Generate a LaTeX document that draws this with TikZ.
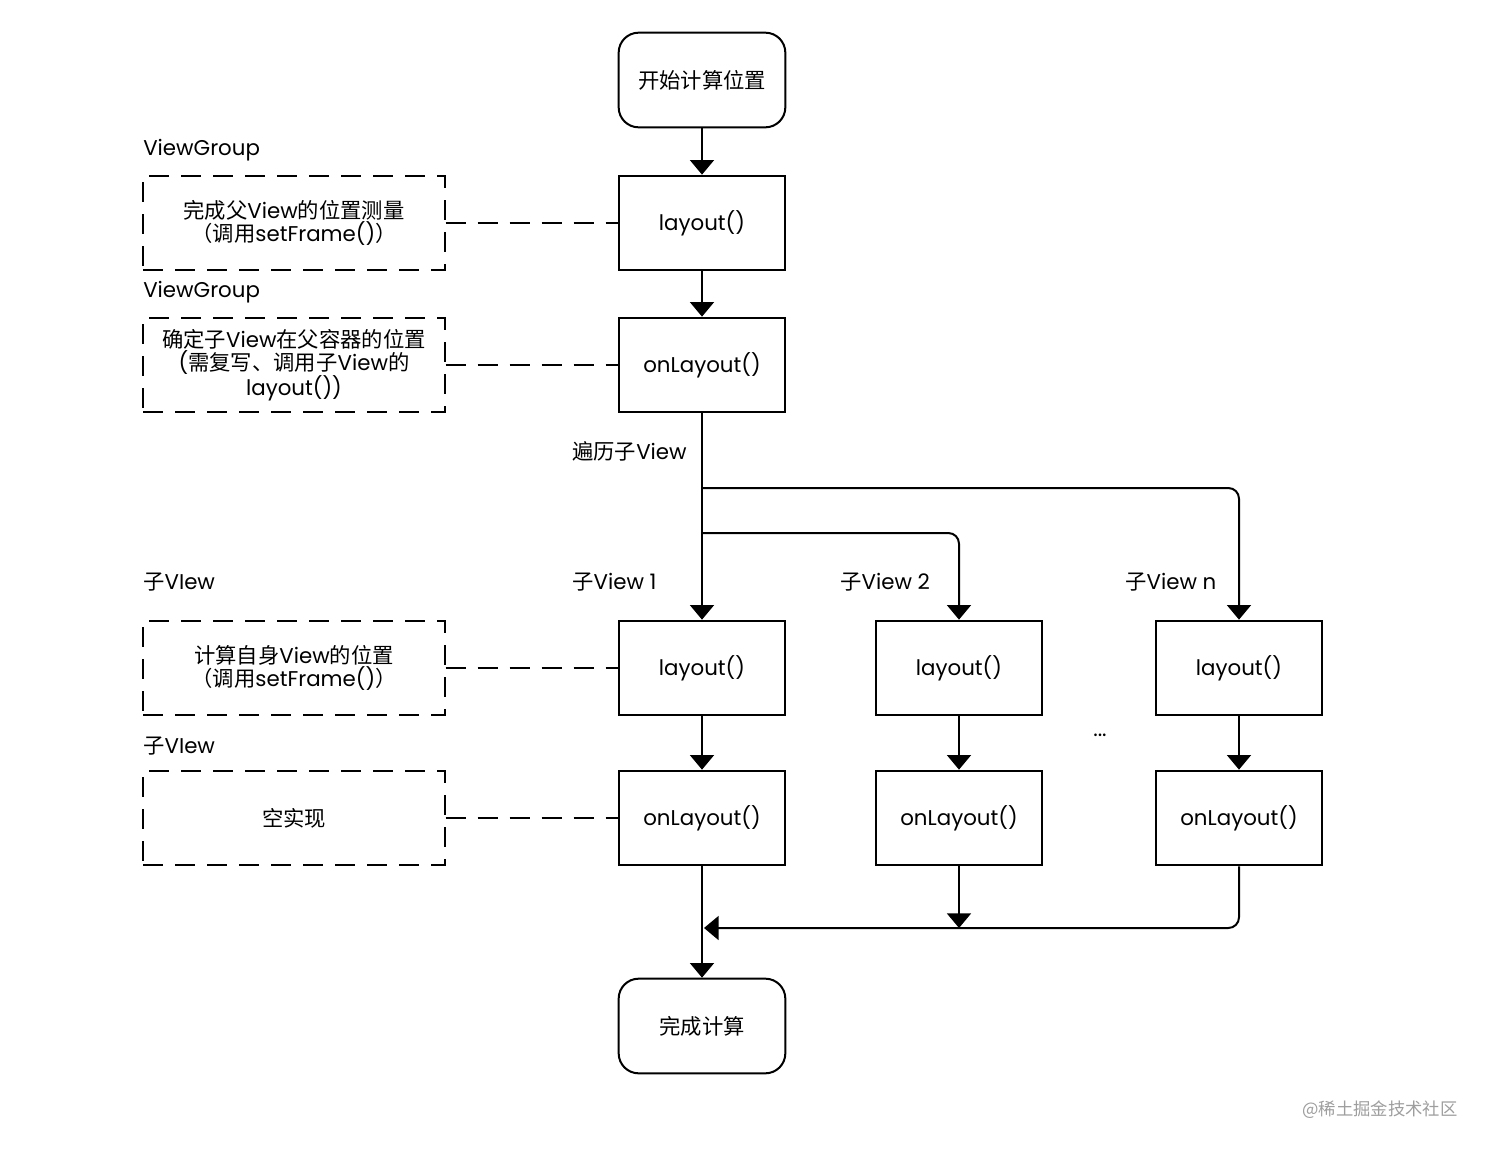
\documentclass[tikz,border=0pt]{standalone}
\usepackage{fontspec}
\setmainfont{Poppins}
\newfontfamily\cjk{Noto Sans CJK SC}
\usetikzlibrary{arrows.meta}
\begin{document}
\begin{tikzpicture}[x=0.75pt,y=-0.75pt,
  font=\fontsize{16}{17.5}\selectfont,
  proc/.style={draw, line width=1.5pt, minimum width=125pt, minimum height=71pt, inner sep=0pt},
  term/.style={proc, rounded corners=15pt},
  note/.style={draw, line width=1.5pt, dash pattern=on 15pt off 9pt, minimum width=226pt, minimum height=71pt, align=center, inner sep=0pt},
  lbl/.style={anchor=west, inner sep=0pt},
  arr/.style={line width=1.5pt, -{Triangle[width=18pt,length=11pt]}},
  dl/.style={line width=1.5pt, dash pattern=on 15pt off 9pt}]
\useasboundingbox (0,0) rectangle (1490,1150);
\fill[white] (0,0) rectangle (1490,1150);

% main column
\node[term] (start) at (702,80) {\cjk 开始计算位置};
\node[proc] (lay0) at (702,223) {layout()};
\node[proc] (onl0) at (702,365) {onLayout()};

\node[proc] (lay1) at (702,668) {layout()};
\node[proc] (onl1) at (702,818) {onLayout()};
\node[proc] (lay2) at (959,668) {layout()};
\node[proc] (onl2) at (959,818) {onLayout()};
\node[proc] (lay3) at (1239,668) {layout()};
\node[proc] (onl3) at (1239,818) {onLayout()};
\node[term] (end) at (702,1026) {\cjk 完成计算};

\node (dots) at (1100,735) {...};

% notes
\node[note] (n1) at (294,223) {{\cjk 完成父}View{\cjk 的位置测量}\\{\cjk （调用}setFrame(){\cjk ）}};
\node[note] (n2) at (294,365) {{\cjk 确定子}View{\cjk 在父容器的位置}\\({\cjk 需复写、调用子}View{\cjk 的}\\layout())};
\node[note] (n3) at (294,668) {{\cjk 计算自身}View{\cjk 的位置}\\{\cjk （调用}setFrame(){\cjk ）}};
\node[note] (n4) at (294,818) {\cjk 空实现};

% labels
\node[lbl] (t1) at (143,150) {ViewGroup};
\node[lbl] (t2) at (143,292) {ViewGroup};
\node[lbl] (t3) at (143,582) {{\cjk 子}VIew};
\node[lbl] (t4) at (143,746) {{\cjk 子}VIew};
\node[lbl] (t5) at (572,451) {{\cjk 遍历子}View};
\node[lbl] (c1) at (572,582) {{\cjk 子}View 1};
\node[lbl] (c2) at (840,582) {{\cjk 子}View 2};
\node[lbl] (c3) at (1125,582) {{\cjk 子}View n};

\node[text=black!38, inner sep=0pt, font=\fontsize{13}{14}\selectfont] (wm) at (1380,1110) {\cjk @稀土掘金技术社区};

% connectors
\draw[arr] (start) -- (lay0);
\draw[arr] (lay0) -- (onl0);
\draw[arr] (onl0) -- (lay1);
\coordinate (b1) at (702,488);
\coordinate (b2) at (702,533);
\draw[arr, rounded corners=8pt] (b1) -| (lay3.north);
\draw[arr, rounded corners=8pt] (b2) -| (lay2.north);
\draw[arr] (lay1) -- (onl1);
\draw[arr] (lay2) -- (onl2);
\draw[arr] (lay3) -- (onl3);
\draw[arr] (onl1) -- (end);
\coordinate (m) at (704,928);
\draw[arr] (onl2.south) -- (onl2.south |- m);
\draw[arr, rounded corners=8pt] (onl3.south) |- (m);

\draw[dl] (n1) -- (lay0);
\draw[dl] (n2) -- (onl0);
\draw[dl] (n3) -- (lay1);
\draw[dl] (n4) -- (onl1);
\end{tikzpicture}
\end{document}
